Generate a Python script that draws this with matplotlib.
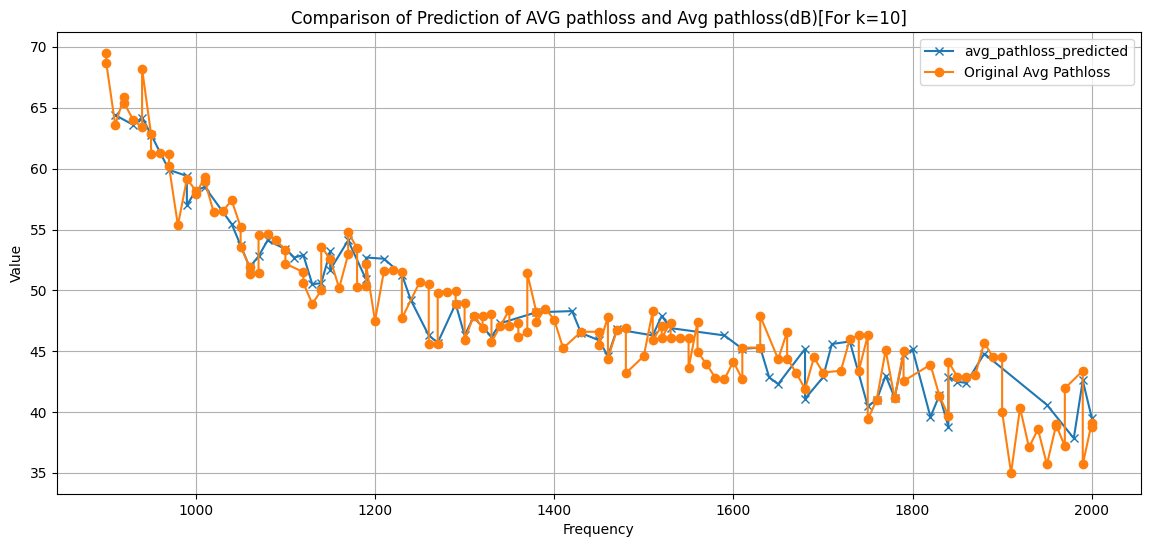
import matplotlib
matplotlib.use("Agg")
import matplotlib.pyplot as plt

# predicted values (test rows, sorted by frequency)
pred_freq = [910, 930, 940, 950, 970, 990, 990, 1000, 1010, 1040, 1050, 1060, 1070, 1080,
             1100, 1110, 1120, 1130, 1140, 1150, 1150, 1170, 1190, 1190, 1210, 1230, 1240,
             1260, 1270, 1290, 1300, 1310, 1330, 1340, 1380, 1420, 1430, 1450, 1460, 1470,
             1510, 1520, 1530, 1590, 1610, 1630, 1640, 1650, 1680, 1680, 1700, 1710, 1730,
             1750, 1760, 1770, 1780, 1790, 1800, 1820, 1830, 1840, 1840, 1850, 1860, 1880,
             1950, 1980, 1990, 2000]
pred_vals = [64.4, 63.6, 64.2, 62.8, 59.9, 59.4, 57.0, 58.2, 58.5, 55.45, 53.7, 51.9, 52.8, 54.1,
             53.4, 52.7, 52.9, 50.5, 50.6, 53.2, 51.7, 54.1, 50.9, 52.7, 52.6, 51.3, 49.2,
             46.3, 45.7, 48.9, 46.3, 47.8, 46.2, 47.3, 48.2, 48.3, 46.5, 45.9, 44.6, 46.8,
             46.3, 47.9, 46.9, 46.3, 45.2, 45.3, 42.85, 42.3, 45.2, 41.1, 42.85, 45.6, 45.8,
             40.5, 41.0, 43.0, 41.2, 44.7, 45.15, 39.6, 41.4, 38.8, 42.9, 42.5, 42.4, 44.8,
             40.6, 37.85, 42.6, 39.55]

# original measured values
orig_freq = [900, 900, 910, 920, 920, 930, 940, 940, 950, 950, 960, 970, 970, 980, 990,
             1000, 1000, 1010, 1010, 1020, 1030, 1040, 1050, 1050, 1060, 1060, 1070, 1070,
             1080, 1090, 1100, 1100, 1120, 1120, 1130, 1140, 1140, 1150, 1160, 1170, 1170,
             1180, 1180, 1190, 1190, 1200, 1210, 1220, 1230, 1230, 1250, 1260, 1260, 1270,
             1270, 1280, 1290, 1290, 1300, 1300, 1310, 1320, 1320, 1330, 1330, 1340, 1350,
             1350, 1360, 1360, 1370, 1370, 1380, 1380, 1390, 1400, 1410, 1430, 1450, 1450,
             1460, 1460, 1470, 1480, 1480, 1500, 1510, 1510, 1520, 1520, 1530, 1530, 1540,
             1550, 1550, 1560, 1560, 1570, 1580, 1590, 1600, 1610, 1610, 1630, 1630, 1650,
             1660, 1660, 1670, 1680, 1690, 1700, 1720, 1730, 1740, 1740, 1750, 1750, 1760,
             1770, 1780, 1790, 1790, 1820, 1830, 1840, 1840, 1850, 1860, 1870, 1880, 1890,
             1900, 1900, 1910, 1920, 1930, 1940, 1950, 1960, 1960, 1970, 1970, 1990, 1990,
             2000, 2000]
orig_vals = [69.5, 68.7, 63.6, 65.9, 65.4, 64.0, 63.4, 68.2, 62.85, 61.2, 61.3, 61.2, 60.2, 55.35, 59.15,
             58.2, 57.9, 59.3, 59.0, 56.4, 56.5, 57.4, 55.2, 53.6, 51.95, 51.35, 51.4, 54.55,
             54.6, 54.1, 53.3, 52.2, 51.5, 50.6, 48.9, 50.0, 53.6, 52.55, 50.2, 52.95, 54.8,
             53.45, 50.25, 50.4, 52.15, 47.5, 51.6, 51.7, 51.5, 47.7, 50.7, 50.5, 45.6, 45.6,
             49.8, 49.9, 49.95, 48.9, 49.0, 45.9, 47.9, 46.95, 47.9, 48.1, 45.75, 47.1, 48.4,
             47.1, 47.3, 46.15, 46.55, 51.4, 48.25, 47.4, 48.5, 47.6, 45.25, 46.6, 46.6, 45.5,
             47.8, 44.4, 46.75, 46.95, 43.2, 44.6, 48.3, 45.9, 47.1, 46.1, 47.35, 46.05, 46.05,
             46.1, 43.6, 47.4, 44.95, 43.95, 42.8, 42.7, 44.15, 42.7, 45.3, 45.3, 47.9, 44.35,
             46.6, 44.4, 43.25, 41.9, 44.5, 43.25, 43.4, 46.0, 46.3, 43.4, 46.3, 39.4, 41.0,
             45.1, 41.15, 45.0, 42.55, 43.9, 41.35, 39.7, 44.15, 42.9, 42.9, 43.05, 45.7, 44.5,
             44.5, 40.0, 35.0, 40.35, 37.1, 38.6, 35.7, 38.85, 39.0, 37.2, 41.95, 43.4, 35.7,
             39.1, 38.8]

fig = plt.figure(figsize=(11.51, 5.47), dpi=100)
ax = fig.add_axes([0.0495, 0.0969, 0.9418, 0.8446])

ax.plot(pred_freq, pred_vals, marker='x', label='avg_pathloss_predicted')
ax.plot(orig_freq, orig_vals, marker='o', label='Original Avg Pathloss')

ax.set_title('Comparison of Prediction of AVG pathloss and Avg pathloss(dB)[For k=10]')
ax.set_xlabel('Frequency')
ax.set_ylabel('Value')
ax.legend(loc='upper right')
ax.grid(True)

fig.savefig('out.png', dpi=100)
